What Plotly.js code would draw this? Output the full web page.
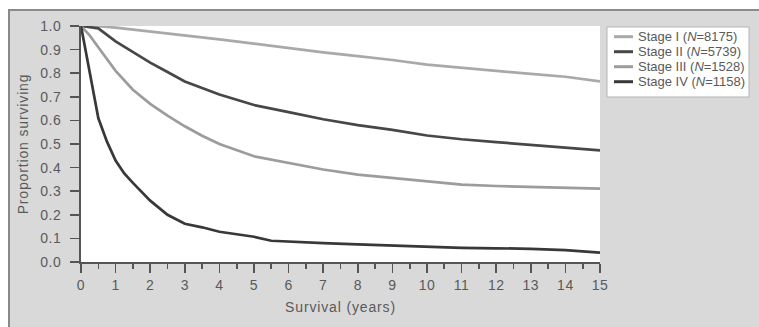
<!DOCTYPE html>
<html>
<head>
<meta charset="utf-8">
<script src="https://cdn.plot.ly/plotly-3.0.1.min.js"></script>
<style>
  html, body { margin: 0; padding: 0; background: #ffffff; }
  #wrap { position: absolute; left: 0; top: 0; width: 759px; height: 327px; background: #ffffff; overflow: hidden; }
  #frame { position: absolute; left: 8px; top: 9px; width: 751px; height: 318px;
           border-left: 2px solid #8a8a8a; border-top: 2px solid #8a8a8a; background: #d9d9d9; }
  #chart { position: absolute; left: 0; top: 0; width: 749px; height: 316px; }
  #chart .g-xtitle text, #chart .g-ytitle text { letter-spacing: 0.85px; }
  #chart .xtick text, #chart .ytick text { letter-spacing: 0.5px; }
</style>
</head>
<body>
<div id="wrap"><div id="frame"><div id="chart"></div></div></div>
<script>
// Survival estimates
const stage1Years = [0, 0.5, 1, 2, 3, 4, 5, 6, 7, 8, 9, 10, 11, 12, 13, 14, 15];
const stage1Vals  = [1.0, 0.999, 0.993, 0.977, 0.961, 0.943, 0.925, 0.905, 0.888, 0.872, 0.856, 0.836, 0.822, 0.81, 0.797, 0.785, 0.765];

const stage2Years = [0, 0.5, 1, 1.5, 2, 2.5, 3, 4, 5, 6, 7, 8, 9, 10, 11, 12, 13, 14, 15];
const stage2Vals  = [1.0, 0.99, 0.935, 0.89, 0.845, 0.805, 0.765, 0.71, 0.665, 0.635, 0.605, 0.58, 0.56, 0.536, 0.52, 0.508, 0.497, 0.487, 0.473];

const stage3Years = [0, 0.25, 0.5, 1, 1.5, 2, 2.5, 3, 3.5, 4, 5, 6, 7, 8, 9, 10, 11, 12, 13, 14, 15];
const stage3Vals  = [1.0, 0.96, 0.91, 0.81, 0.73, 0.67, 0.62, 0.575, 0.535, 0.5, 0.448, 0.42, 0.392, 0.37, 0.355, 0.342, 0.328, 0.322, 0.318, 0.315, 0.311];

const stage4Years = [0, 0.1, 0.25, 0.5, 0.75, 1, 1.25, 1.5, 2, 2.5, 3, 3.5, 4, 5, 5.5, 6, 7, 8, 9, 10, 11, 12, 13, 14, 15];
const stage4Vals  = [1.0, 0.92, 0.8, 0.61, 0.51, 0.43, 0.375, 0.335, 0.26, 0.2, 0.162, 0.147, 0.128, 0.107, 0.09, 0.086, 0.08, 0.075, 0.07, 0.064, 0.06, 0.058, 0.056, 0.05, 0.04];

const seriesNames = [
  'Stage I (<i>N</i>=8175)',
  'Stage II (<i>N</i>=5739)',
  'Stage III (<i>N</i>=1528)',
  'Stage IV (<i>N</i>=1158)'
];
const seriesColors = ['#a9a9a9', '#474747', '#9c9c9c', '#383838'];

const xs = [stage1Years, stage2Years, stage3Years, stage4Years];
const ys = [stage1Vals, stage2Vals, stage3Vals, stage4Vals];

const traces = xs.map((x, i) => ({
  x: x, y: ys[i], name: seriesNames[i], type: 'scatter', mode: 'lines',
  line: { color: seriesColors[i], width: 2.7, shape: 'linear' },
  showlegend: false, hoverinfo: 'skip'
}));

const fontFam = '"Liberation Sans", Arial, sans-serif';
const textCol = '#5a5a5a';

// Legend box drawn in paper coordinates (to the right of the plot area)
const legX0 = 1.0135, legX1 = 1.2871, legY0 = 0.6992, legY1 = 0.9958;
const legRow0 = 0.9547, legRowStep = 0.0636;
const legLineX0 = 1.027, legLineX1 = 1.0636, legTextX = 1.0713;

const shapes = [{
  type: 'rect', xref: 'paper', yref: 'paper',
  x0: legX0, x1: legX1, y0: legY0, y1: legY1,
  fillcolor: '#ffffff', line: { color: '#b5b5b5', width: 1 }, layer: 'above'
}];
const annotations = [];
seriesNames.forEach((nm, i) => {
  const yy = legRow0 - i * legRowStep;
  shapes.push({
    type: 'line', xref: 'paper', yref: 'paper',
    x0: legLineX0, x1: legLineX1, y0: yy, y1: yy,
    line: { color: seriesColors[i], width: 3 }, layer: 'above'
  });
  annotations.push({
    xref: 'paper', yref: 'paper', x: legTextX, y: yy,
    xanchor: 'left', yanchor: 'middle', showarrow: false,
    text: nm, font: { family: fontFam, size: 13, color: textCol }, borderpad: 0
  });
});

const layout = {
  width: 749, height: 316,
  margin: { l: 71, r: 159, t: 15, b: 65 },
  paper_bgcolor: '#d9d9d9',
  plot_bgcolor: '#ffffff',
  font: { family: fontFam, size: 14, color: textCol },
  showlegend: false,
  shapes: shapes,
  annotations: annotations,
  xaxis: {
    range: [0, 15], dtick: 1, tick0: 0,
    showgrid: false, zeroline: false,
    showline: true, linecolor: '#555555', linewidth: 2,
    ticks: 'outside', ticklen: 9, tickwidth: 1.6, tickcolor: '#555555',
    minor: { dtick: 0.5, ticks: 'outside', ticklen: 5, tickwidth: 1.6, tickcolor: '#555555', showgrid: false },
    tickfont: { family: fontFam, size: 14, color: textCol },
    ticklabelstandoff: 0,
    title: { text: 'Survival (years)', font: { family: fontFam, size: 14, color: textCol }, standoff: 10 },
    fixedrange: true
  },
  yaxis: {
    range: [0, 1], dtick: 0.1, tick0: 0, tickformat: '.1f',
    showgrid: false, zeroline: false,
    showline: true, linecolor: '#555555', linewidth: 2,
    ticks: 'outside', ticklen: 9, tickwidth: 1.6, tickcolor: '#555555',
    tickfont: { family: fontFam, size: 14, color: textCol },
    ticklabelstandoff: 6,
    title: { text: 'Proportion surviving', font: { family: fontFam, size: 14, color: textCol }, standoff: 10 },
    fixedrange: true
  }
};

Plotly.newPlot('chart', traces, layout, { displayModeBar: false, staticPlot: true });
</script>
</body>
</html>
